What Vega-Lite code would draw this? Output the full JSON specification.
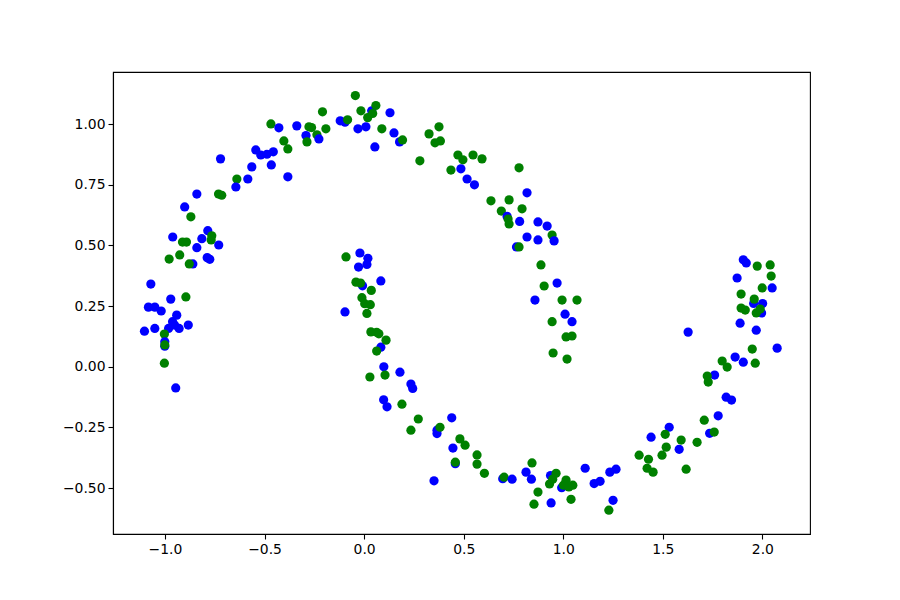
{
"$schema": "https://vega.github.io/schema/vega-lite/v6.json",
"width": 697, "height": 462,
"autosize": {"type": "none"},
"padding": {"left": 113, "top": 72, "right": 90, "bottom": 66},
"background": "white",
"config": {"view": {"stroke": "black", "strokeWidth": 1.1}},
"data": {"values": [
{"x":-0.209,"y":1.051,"c":"g"},{"x":-0.120,"y":1.014,"c":"b"},{"x":-0.096,"y":1.008,"c":"b"},{"x":-0.083,"y":1.018,"c":"g"},
{"x":-0.468,"y":1.001,"c":"g"},{"x":-0.428,"y":0.985,"c":"b"},{"x":-0.338,"y":0.993,"c":"b"},{"x":-0.277,"y":0.989,"c":"g"},
{"x":-0.264,"y":0.986,"c":"g"},{"x":-0.292,"y":0.953,"c":"b"},{"x":-0.237,"y":0.956,"c":"g"},{"x":-0.227,"y":0.939,"c":"b"},
{"x":-0.192,"y":0.981,"c":"g"},{"x":-0.403,"y":0.931,"c":"g"},{"x":-0.383,"y":0.898,"c":"g"},{"x":-0.287,"y":0.927,"c":"g"},
{"x":-0.544,"y":0.894,"c":"b"},{"x":-0.519,"y":0.873,"c":"b"},{"x":-0.488,"y":0.876,"c":"b"},{"x":-0.456,"y":0.886,"c":"b"},
{"x":-0.466,"y":0.832,"c":"b"},{"x":-0.721,"y":0.857,"c":"b"},{"x":-0.564,"y":0.824,"c":"b"},{"x":-0.584,"y":0.774,"c":"b"},
{"x":-0.639,"y":0.774,"c":"g"},{"x":-0.644,"y":0.741,"c":"b"},{"x":-0.383,"y":0.783,"c":"b"},{"x":-0.840,"y":0.712,"c":"b"},
{"x":-0.731,"y":0.712,"c":"g"},{"x":-0.715,"y":0.707,"c":"g"},{"x":-0.901,"y":0.659,"c":"b"},{"x":-0.870,"y":0.618,"c":"g"},
{"x":-0.785,"y":0.561,"c":"b"},{"x":-0.961,"y":0.535,"c":"b"},{"x":-0.912,"y":0.514,"c":"g"},{"x":-0.892,"y":0.514,"c":"g"},
{"x":-0.815,"y":0.528,"c":"b"},{"x":-0.765,"y":0.540,"c":"g"},{"x":-0.768,"y":0.523,"c":"g"},{"x":-0.730,"y":0.502,"c":"b"},
{"x":-0.840,"y":0.491,"c":"b"},{"x":-0.926,"y":0.461,"c":"g"},{"x":-0.979,"y":0.444,"c":"g"},{"x":-0.860,"y":0.424,"c":"b"},
{"x":-0.878,"y":0.424,"c":"g"},{"x":-0.788,"y":0.450,"c":"b"},{"x":-0.775,"y":0.443,"c":"b"},{"x":-1.071,"y":0.341,"c":"b"},
{"x":-0.895,"y":0.288,"c":"g"},{"x":-0.971,"y":0.279,"c":"b"},{"x":-1.083,"y":0.246,"c":"b"},{"x":-1.051,"y":0.246,"c":"b"},
{"x":-1.019,"y":0.230,"c":"b"},{"x":-0.941,"y":0.213,"c":"b"},{"x":-0.962,"y":0.186,"c":"b"},{"x":-1.103,"y":0.147,"c":"b"},
{"x":-1.051,"y":0.158,"c":"b"},{"x":-0.982,"y":0.158,"c":"b"},{"x":-0.952,"y":0.172,"c":"b"},{"x":-0.929,"y":0.158,"c":"b"},
{"x":-0.883,"y":0.172,"c":"b"},{"x":-1.003,"y":0.135,"c":"g"},{"x":-1.001,"y":0.103,"c":"b"},{"x":-1.001,"y":0.085,"c":"b"},
{"x":-1.001,"y":0.090,"c":"g"},{"x":-1.003,"y":0.015,"c":"g"},{"x":-0.946,"y":-0.087,"c":"b"},{"x":-0.091,"y":0.453,"c":"g"},
{"x":-0.096,"y":0.226,"c":"b"},
{"x":-0.044,"y":1.118,"c":"g"},{"x":0.038,"y":1.055,"c":"b"},{"x":-0.016,"y":1.055,"c":"g"},{"x":0.059,"y":1.077,"c":"g"},
{"x":0.043,"y":1.044,"c":"g"},{"x":0.018,"y":1.027,"c":"g"},{"x":0.130,"y":1.047,"c":"b"},{"x":-0.031,"y":0.981,"c":"b"},
{"x":0.009,"y":0.989,"c":"b"},{"x":0.089,"y":0.981,"c":"g"},{"x":0.150,"y":0.964,"c":"b"},{"x":0.178,"y":0.927,"c":"b"},
{"x":0.193,"y":0.935,"c":"g"},{"x":0.054,"y":0.906,"c":"b"},{"x":0.326,"y":0.960,"c":"g"},{"x":0.376,"y":0.989,"c":"g"},
{"x":0.356,"y":0.923,"c":"g"},{"x":0.383,"y":0.931,"c":"g"},{"x":0.280,"y":0.849,"c":"g"},{"x":0.471,"y":0.873,"c":"g"},
{"x":0.496,"y":0.853,"c":"g"},{"x":0.547,"y":0.873,"c":"g"},{"x":0.592,"y":0.857,"c":"g"},{"x":0.486,"y":0.816,"c":"b"},
{"x":0.436,"y":0.811,"c":"g"},{"x":0.517,"y":0.774,"c":"b"},{"x":0.554,"y":0.750,"c":"b"},{"x":0.778,"y":0.820,"c":"g"},
{"x":0.818,"y":0.717,"c":"b"},{"x":0.637,"y":0.684,"c":"g"},{"x":0.728,"y":0.688,"c":"g"},{"x":0.689,"y":0.642,"c":"g"},
{"x":0.793,"y":0.651,"c":"g"},{"x":0.718,"y":0.620,"c":"b"},{"x":0.723,"y":0.609,"c":"g"},{"x":0.728,"y":0.589,"c":"g"},
{"x":0.781,"y":0.599,"c":"b"},{"x":0.873,"y":0.597,"c":"b"},{"x":0.919,"y":0.580,"c":"b"},{"x":0.944,"y":0.543,"c":"g"},
{"x":0.818,"y":0.535,"c":"b"},{"x":0.873,"y":0.523,"c":"b"},{"x":0.954,"y":0.519,"c":"b"},{"x":0.765,"y":0.494,"c":"b"},
{"x":0.778,"y":0.494,"c":"g"},{"x":0.888,"y":0.420,"c":"g"},{"x":0.904,"y":0.333,"c":"g"},{"x":0.969,"y":0.345,"c":"b"},
{"x":0.858,"y":0.275,"c":"b"},{"x":0.994,"y":0.275,"c":"g"},{"x":1.069,"y":0.275,"c":"g"},{"x":1.009,"y":0.217,"c":"b"},
{"x":1.044,"y":0.186,"c":"b"},{"x":0.944,"y":0.186,"c":"g"},{"x":1.014,"y":0.123,"c":"g"},{"x":1.044,"y":0.127,"c":"g"},
{"x":0.949,"y":0.057,"c":"g"},{"x":1.019,"y":0.032,"c":"g"},
{"x":-0.021,"y":0.469,"c":"b"},{"x":0.019,"y":0.447,"c":"b"},{"x":-0.028,"y":0.411,"c":"b"},{"x":0.014,"y":0.422,"c":"b"},
{"x":-0.008,"y":0.334,"c":"b"},{"x":-0.041,"y":0.349,"c":"g"},{"x":-0.018,"y":0.345,"c":"g"},{"x":0.084,"y":0.354,"c":"b"},
{"x":0.036,"y":0.315,"c":"g"},{"x":-0.011,"y":0.285,"c":"g"},{"x":0.003,"y":0.260,"c":"g"},{"x":0.031,"y":0.256,"c":"g"},
{"x":0.014,"y":0.220,"c":"g"},{"x":0.034,"y":0.144,"c":"g"},{"x":0.063,"y":0.142,"c":"g"},{"x":0.074,"y":0.136,"c":"g"},
{"x":0.084,"y":0.081,"c":"b"},{"x":0.110,"y":0.110,"c":"g"},{"x":0.063,"y":0.065,"c":"g"},{"x":0.099,"y":0.000,"c":"b"},
{"x":0.180,"y":-0.022,"c":"b"},{"x":0.029,"y":-0.042,"c":"g"},{"x":0.105,"y":-0.034,"c":"g"},{"x":0.235,"y":-0.071,"c":"b"},
{"x":0.244,"y":-0.089,"c":"b"},{"x":0.098,"y":-0.136,"c":"b"},{"x":0.115,"y":-0.165,"c":"b"},{"x":0.190,"y":-0.154,"c":"g"},
{"x":0.272,"y":-0.215,"c":"g"},{"x":0.235,"y":-0.261,"c":"g"},{"x":0.440,"y":-0.210,"c":"b"},{"x":0.366,"y":-0.261,"c":"b"},
{"x":0.366,"y":-0.275,"c":"b"},{"x":0.381,"y":-0.249,"c":"g"},{"x":0.481,"y":-0.297,"c":"g"},{"x":0.507,"y":-0.323,"c":"g"},
{"x":0.446,"y":-0.335,"c":"b"},{"x":0.458,"y":-0.399,"c":"b"},{"x":0.458,"y":-0.393,"c":"g"},{"x":0.567,"y":-0.363,"c":"g"},
{"x":0.567,"y":-0.401,"c":"g"},{"x":0.604,"y":-0.439,"c":"g"},{"x":0.351,"y":-0.470,"c":"b"},{"x":0.696,"y":-0.461,"c":"b"},
{"x":0.703,"y":-0.455,"c":"g"},{"x":0.743,"y":-0.463,"c":"b"},{"x":0.813,"y":-0.434,"c":"b"},{"x":0.843,"y":-0.396,"c":"g"},
{"x":0.840,"y":-0.463,"c":"b"},{"x":0.873,"y":-0.516,"c":"g"},{"x":0.853,"y":-0.566,"c":"g"},{"x":0.939,"y":-0.561,"c":"b"},
{"x":0.936,"y":-0.448,"c":"b"},{"x":0.964,"y":-0.439,"c":"g"},{"x":0.947,"y":-0.463,"c":"g"},{"x":0.931,"y":-0.483,"c":"g"},
{"x":0.992,"y":-0.498,"c":"b"},{"x":1.014,"y":-0.467,"c":"g"},{"x":1.001,"y":-0.488,"c":"g"},{"x":1.028,"y":-0.495,"c":"g"},
{"x":1.048,"y":-0.488,"c":"g"},{"x":1.039,"y":-0.546,"c":"g"},{"x":1.110,"y":-0.418,"c":"b"},
{"x":1.155,"y":-0.481,"c":"b"},{"x":1.185,"y":-0.472,"c":"b"},{"x":1.234,"y":-0.434,"c":"b"},{"x":1.265,"y":-0.422,"c":"b"},
{"x":1.250,"y":-0.550,"c":"b"},{"x":1.229,"y":-0.591,"c":"g"},{"x":1.441,"y":-0.290,"c":"b"},{"x":1.532,"y":-0.249,"c":"b"},
{"x":1.512,"y":-0.278,"c":"g"},{"x":1.517,"y":-0.331,"c":"g"},{"x":1.496,"y":-0.364,"c":"g"},{"x":1.381,"y":-0.364,"c":"g"},
{"x":1.428,"y":-0.381,"c":"g"},{"x":1.421,"y":-0.418,"c":"g"},{"x":1.451,"y":-0.434,"c":"g"},{"x":1.582,"y":-0.340,"c":"b"},
{"x":1.592,"y":-0.302,"c":"g"},{"x":1.672,"y":-0.311,"c":"g"},{"x":1.617,"y":-0.422,"c":"g"},{"x":1.708,"y":-0.220,"c":"g"},
{"x":1.735,"y":-0.274,"c":"b"},{"x":1.758,"y":-0.269,"c":"g"},{"x":1.778,"y":-0.202,"c":"b"},{"x":1.818,"y":-0.125,"c":"b"},
{"x":1.845,"y":-0.137,"c":"b"},
{"x":1.904,"y":0.441,"c":"b"},{"x":1.919,"y":0.428,"c":"b"},{"x":1.974,"y":0.415,"c":"g"},{"x":2.039,"y":0.420,"c":"g"},
{"x":2.044,"y":0.374,"c":"g"},{"x":1.873,"y":0.366,"c":"b"},{"x":2.049,"y":0.325,"c":"b"},{"x":1.999,"y":0.325,"c":"g"},
{"x":1.893,"y":0.300,"c":"g"},{"x":1.956,"y":0.261,"c":"b"},{"x":2.001,"y":0.261,"c":"b"},{"x":1.959,"y":0.279,"c":"g"},
{"x":1.893,"y":0.242,"c":"g"},{"x":1.914,"y":0.234,"c":"g"},{"x":1.996,"y":0.222,"c":"b"},{"x":1.989,"y":0.238,"c":"g"},
{"x":1.969,"y":0.222,"c":"g"},{"x":1.888,"y":0.180,"c":"b"},{"x":1.969,"y":0.151,"c":"b"},{"x":1.627,"y":0.143,"c":"b"},
{"x":2.074,"y":0.077,"c":"b"},{"x":1.949,"y":0.073,"c":"g"},{"x":1.863,"y":0.040,"c":"b"},{"x":1.904,"y":0.019,"c":"b"},
{"x":1.964,"y":0.015,"c":"g"},{"x":1.798,"y":0.024,"c":"g"},{"x":1.823,"y":-0.001,"c":"g"},{"x":1.760,"y":-0.034,"c":"b"},
{"x":1.723,"y":-0.038,"c":"g"},{"x":1.728,"y":-0.063,"c":"g"}
]},
"mark": {"type": "point", "filled": true, "opacity": 1, "size": 85, "shape": "circle"},
"encoding": {
"x": {"field": "x", "type": "quantitative", "scale": {"domain": [-1.261, 2.239], "nice": false, "zero": false},
 "axis": {"title": null, "values": [-1, -0.5, 0, 0.5, 1, 1.5, 2], "format": ".1f", "grid": false, "domainColor": "black", "domainWidth": 1.1,
  "tickColor": "black", "tickSize": 5, "tickWidth": 1.1, "labelColor": "black", "labelFont": "DejaVu Sans", "labelFontSize": 13.9, "labelPadding": 3, "labelFlush": false}},
"y": {"field": "y", "type": "quantitative", "scale": {"domain": [-0.689, 1.215], "nice": false, "zero": false},
 "axis": {"title": null, "values": [-0.5, -0.25, 0, 0.25, 0.5, 0.75, 1], "format": ".2f", "grid": false, "domainColor": "black", "domainWidth": 1.1,
  "tickColor": "black", "tickSize": 5, "tickWidth": 1.1, "labelColor": "black", "labelFont": "DejaVu Sans", "labelFontSize": 13.9, "labelPadding": 3, "labelFlush": false}},
"color": {"field": "c", "type": "nominal", "scale": {"domain": ["b", "g"], "range": ["#0000ff", "#008000"]}, "legend": null}
}
}
